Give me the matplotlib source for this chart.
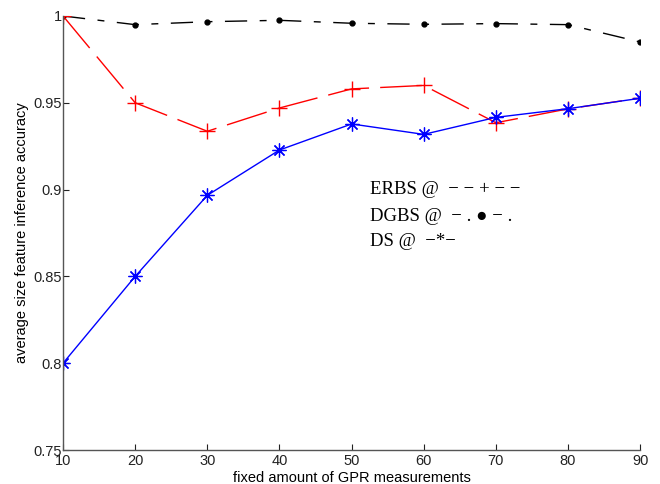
import matplotlib
matplotlib.use("Agg")
import matplotlib.pyplot as plt

x = [10, 20, 30, 40, 50, 60, 70, 80, 90]
erbs = [1.0, 0.950, 0.9336, 0.947, 0.958, 0.960, 0.9385, 0.9465, 0.9527]
dgbs = [1.0, 0.9950, 0.9967, 0.9975, 0.9958, 0.9952, 0.9956, 0.9950, 0.985]
ds = [0.80, 0.850, 0.8967, 0.9228, 0.9378, 0.9318, 0.9416, 0.9466, 0.9526]
yticks = [0.75, 0.8, 0.85, 0.9, 0.95, 1.0]
ytick_labels = ["0.75", "0.8", "0.85", "0.9", "0.95", "1"]
notes = ["ERBS @\u2002\u2212 \u2212 + \u2212 \u2212",
         "DGBS @\u2002\u2212 . \u25CF \u2212 .",
         "DS @\u2002\u2212*\u2212"]

plt.rcParams['font.family'] = ['Liberation Sans', 'DejaVu Sans']
fig = plt.figure(figsize=(6.6, 4.84), dpi=100)
ax = fig.add_axes([0.0955, 0.0702, 0.8745, 0.8968])

ax.plot(x, dgbs, color='black', lw=1.0, marker='.', markersize=7,
        dashes=(16, 9, 5, 9))
ax.plot(x, erbs, color='red', lw=1.0, marker='+', markersize=11,
        markeredgewidth=1.0, dashes=(30, 8))
ax.plot(x, ds, color='blue', lw=1.0, marker=(8, 2, 0), markersize=10,
        markeredgewidth=0.9)

ax.set_xlim(10, 90)
ax.set_ylim(0.75, 1.0)
ax.set_xticks(x)
ax.set_yticks(yticks)
ax.set_yticklabels(ytick_labels)
ax.tick_params(direction='in', length=4, labelsize=10.5, colors='#222222')
ax.tick_params(axis='x', pad=3)
ax.tick_params(axis='y', pad=1)
for s in ['top', 'right']:
    ax.spines[s].set_visible(False)
for s in ['left', 'bottom']:
    ax.spines[s].set_color('#555555')
    ax.spines[s].set_linewidth(1.0)

ax.set_xlabel("fixed amount of GPR measurements", fontsize=10.5, labelpad=2)
ax.set_ylabel("average size feature inference accuracy", fontsize=10.5, labelpad=3)

for i, t in enumerate(notes):
    fig.text(370 / 660, 1 - (190 + i * 26) / 484, t, fontsize=13.5,
             family=['Liberation Serif', 'DejaVu Serif'], va='center', ha='left')

fig.savefig("out.png", dpi=100)
